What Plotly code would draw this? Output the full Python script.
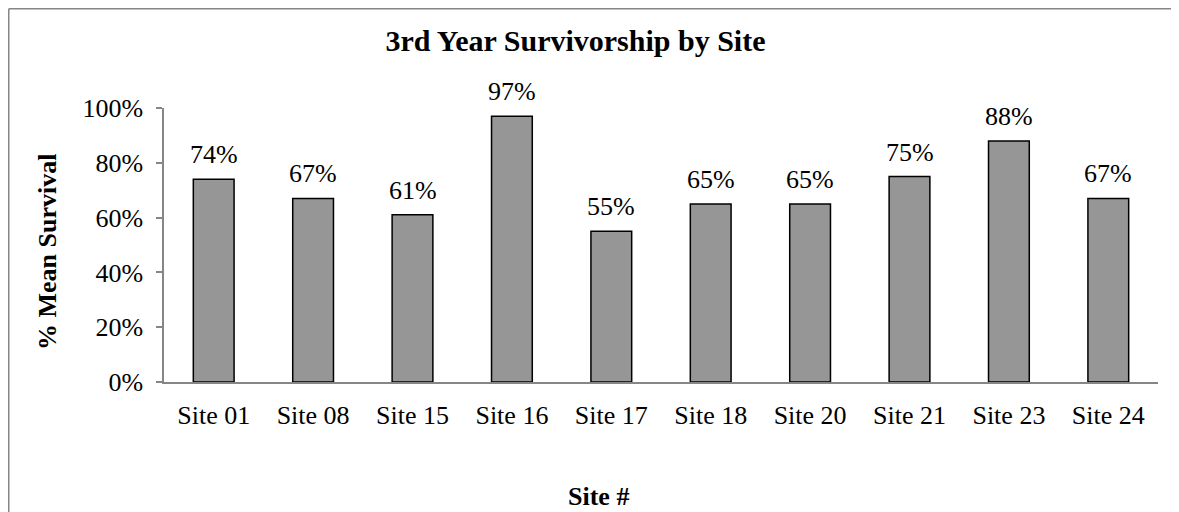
import plotly.graph_objects as go

sites = ["Site 01", "Site 08", "Site 15", "Site 16", "Site 17",
         "Site 18", "Site 20", "Site 21", "Site 23", "Site 24"]
survival = [0.74, 0.67, 0.61, 0.97, 0.55, 0.65, 0.65, 0.75, 0.88, 0.67]
y_ticks = [0, 0.2, 0.4, 0.6, 0.8, 1.0]
y_tick_labels = ["0%", "20%", "40%", "60%", "80%", "100%"]

FONT = "Liberation Serif, Times New Roman, serif"
AXIS_GRAY = "#868686"

OFF = 8  # page body margin
W, H = 1179 - OFF, 512 - OFF
plot_left, plot_right = 164 - OFF, 1158 - OFF
plot_top, plot_bottom = 108 - OFF, 382 - OFF
L, R, T, B = plot_left, W - plot_right, plot_top, H - plot_bottom
pw, ph = plot_right - plot_left, plot_bottom - plot_top

def px_x(px):
    return (px - OFF - L) / pw

def px_y(py):
    return (plot_bottom - (py - OFF)) / ph

fig = go.Figure()
fig.add_trace(go.Bar(
    x=sites, y=survival,
    marker=dict(color="#969696", line=dict(color="black", width=1.5)),
    showlegend=False, hoverinfo="x+y",
))

annotations = []
for s, v in zip(sites, survival):
    annotations.append(dict(
        x=s, y=v, xref="x", yref="y", text=f"{round(v*100)}%",
        showarrow=False, yanchor="bottom", yshift=8,
        font=dict(family=FONT, size=26, color="black"),
    ))
annotations.append(dict(
    x=px_x(47), y=px_y(252), xref="paper", yref="paper",
    text="<b>% Mean Survival</b>", textangle=-90, showarrow=False,
    xanchor="center", yanchor="middle",
    font=dict(family=FONT, size=26, color="black"),
))
annotations.append(dict(
    x=px_x(598), y=px_y(496), xref="paper", yref="paper",
    text="<b>Site #</b>", showarrow=False,
    xanchor="center", yanchor="middle",
    font=dict(family=FONT, size=26, color="black"),
))

bx, by = (0.75 - L) / pw, (plot_bottom - 0.75) / ph
shapes = [
    dict(type="line", xref="paper", yref="paper", x0=bx, x1=bx, y0=by, y1=(plot_bottom - H - 20) / ph,
         line=dict(color=AXIS_GRAY, width=1.5)),
    dict(type="line", xref="paper", yref="paper", x0=bx, x1=(W + 20 - L) / pw, y0=by, y1=by,
         line=dict(color=AXIS_GRAY, width=1.5)),
]

fig.update_layout(
    width=W, height=H,
    margin=dict(l=L, r=R, t=T, b=B, pad=0),
    paper_bgcolor="white", plot_bgcolor="white",
    bargap=0.59,
    title=dict(text="<b>3rd Year Survivorship by Site</b>", x=(575.5 - OFF) / W, y=1 - (40 - OFF) / H,
               xref="container", yref="container", xanchor="center", yanchor="middle",
               font=dict(family=FONT, size=30, color="black")),
    font=dict(family=FONT, size=26, color="black"),
    annotations=annotations,
    shapes=shapes,
    xaxis=dict(showline=True, linecolor=AXIS_GRAY, linewidth=1.5, ticks="",
               showgrid=False, ticklabelstandoff=9,
               tickfont=dict(family=FONT, size=26, color="black")),
    yaxis=dict(range=[0, 1], showline=True, linecolor=AXIS_GRAY, linewidth=1.5,
               ticks="outside", ticklen=6, tickcolor=AXIS_GRAY, tickwidth=1.5,
               tickvals=y_ticks, ticktext=y_tick_labels, showgrid=False,
               zeroline=False, ticklabelstandoff=8,
               tickfont=dict(family=FONT, size=26, color="black")),
)

fig.write_html("out.html")
